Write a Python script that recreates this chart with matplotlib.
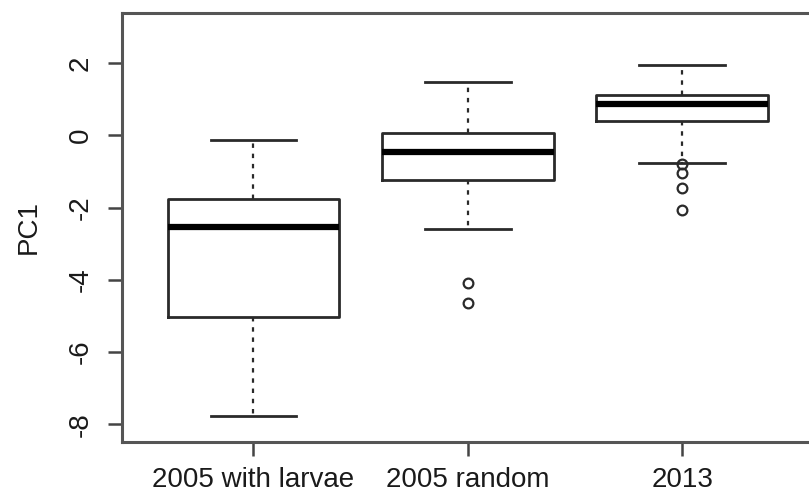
import matplotlib.pyplot as plt

# group summaries
groups = ['2005 with larvae', '2005 random', '2013']
whislo = [-7.78, -2.58, -0.76]
q1 = [-5.04, -1.22, 0.39]
med = [-2.53, -0.47, 0.86]
q3 = [-1.75, 0.07, 1.13]
whishi = [-0.13, 1.47, 1.94]
fliers = [[], [-4.08, -4.65], [-0.80, -1.04, -1.45, -2.07]]
yticks = [-8, -6, -4, -2, 0, 2]

plt.rcParams['font.family'] = ['Liberation Sans', 'DejaVu Sans']
line_col = '#2a2a2a'

stats = []
for i in range(len(groups)):
    stats.append({'label': groups[i], 'whislo': whislo[i], 'q1': q1[i], 'med': med[i],
                  'q3': q3[i], 'whishi': whishi[i], 'fliers': fliers[i]})

fig = plt.figure(figsize=(8.09, 4.96), dpi=100)
ax = fig.add_axes([0.1504, 0.1095, 0.8558, 0.8649])

ax.bxp(stats, positions=[1, 2, 3], widths=0.8,
       boxprops=dict(color=line_col, linewidth=2),
       medianprops=dict(color='black', linewidth=4.5, solid_capstyle='butt'),
       whiskerprops=dict(color=line_col, linewidth=1.6, linestyle=(0, (2.0, 2.6))),
       capprops=dict(color=line_col, linewidth=2),
       flierprops=dict(marker='o', markersize=7, markerfacecolor='none',
                       markeredgecolor=line_col, markeredgewidth=1.6),
       capwidths=0.4)

ax.set_xlim(0.385, 3.615)
ax.set_ylim(-8.48, 3.40)
ax.set_yticks(yticks)
ax.set_yticklabels([str(v) for v in yticks], rotation=90, va='center')
ax.set_xticks([1, 2, 3])
ax.set_xticklabels(groups)
ax.tick_params(axis='both', labelsize=20, length=10, width=1.8, color='#444444',
               labelcolor='#1a1a1a')
ax.tick_params(axis='y', pad=10)
ax.tick_params(axis='x', pad=8)
for s in ax.spines.values():
    s.set_linewidth(2.2)
    s.set_color('#555555')
ax.set_ylabel('PC1', fontsize=20, color='#1a1a1a', labelpad=19)

fig.savefig('out.png', dpi=100)
